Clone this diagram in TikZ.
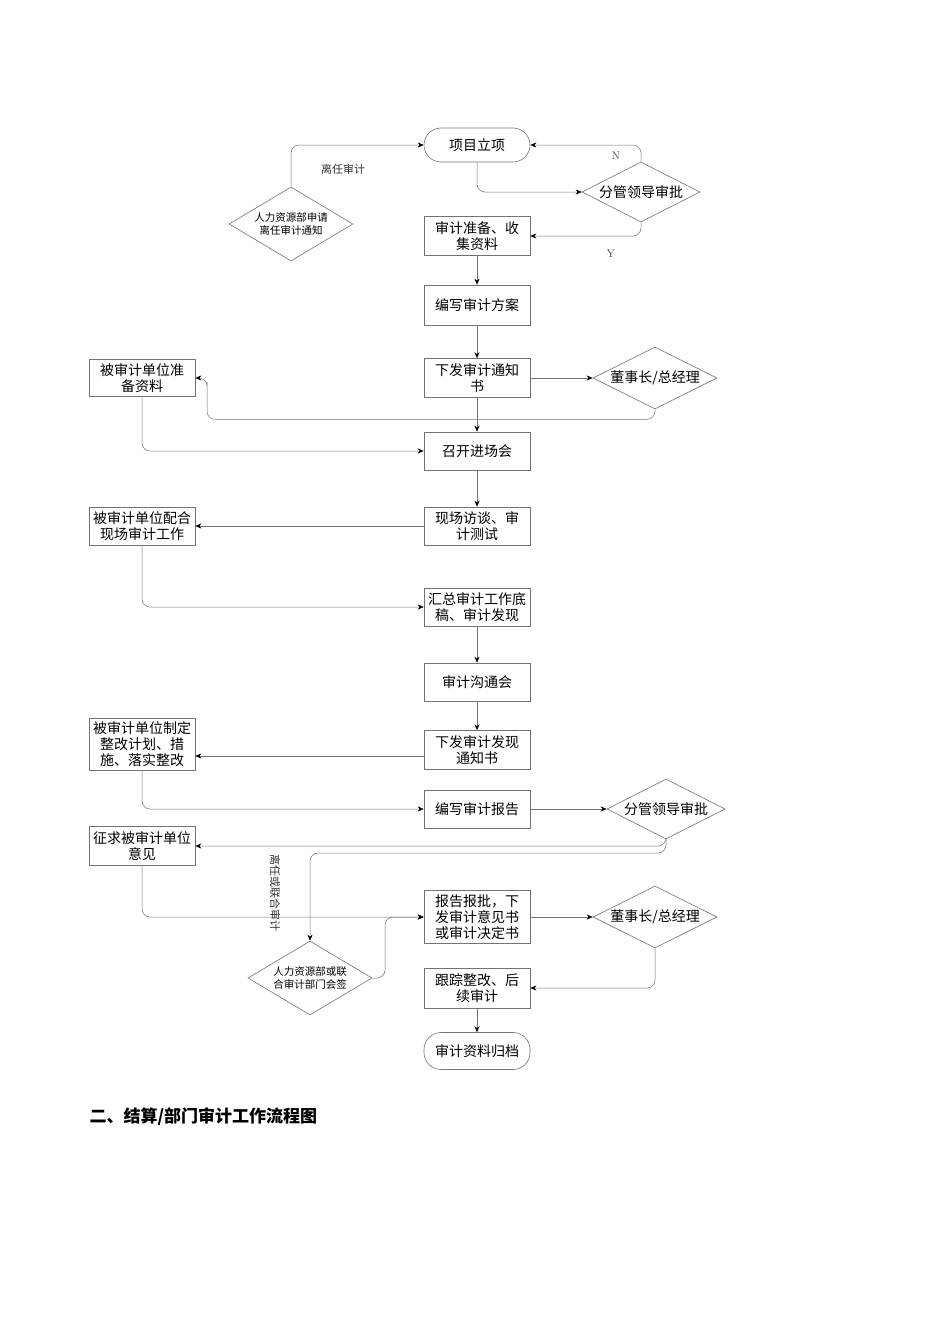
\documentclass[tikz,border=0pt]{standalone}
\usepackage{fontspec}
\newfontfamily\cjk{Noto Sans CJK SC}
\usetikzlibrary{shapes.geometric,arrows.meta}
\begin{document}
\begin{tikzpicture}[x=1pt,y=-1pt,
  font=\cjk\fontsize{14}{16}\selectfont,
  ln/.style={draw=black!55,line width=0.5pt,rounded corners=8pt},
  ar/.style={ln,-{Stealth[length=6pt,width=5pt,black]}},
  bx/.style={draw=black!55,line width=0.6pt,minimum width=106pt,text width=100pt,align=center,inner sep=1pt},
  term/.style={bx,rounded corners=17pt},
  dia/.style={draw=black!55,line width=0.6pt,diamond,aspect=1.9,inner sep=0pt,align=center},
  lb/.style={font=\cjk\fontsize{11}{13}\selectfont,text=black!80}]
\useasboundingbox (0,0) rectangle (950,1344);
\node[term,minimum height=34pt] (start) at (477,145) {项目立项};
\node[dia,minimum width=118pt,minimum height=60pt] (d1) at (641,192) {分管领导审批};
\node[dia,minimum width=124pt,minimum height=74pt,font=\cjk\fontsize{10.5}{13}\selectfont] (hr1) at (291,224) {人力资源部申请\\离任审计通知};
\node[bx,minimum height=39pt] (prep) at (477,236) {审计准备、收\\集资料};
\node[bx,minimum height=40pt] (plan) at (477,305) {编写审计方案};
\node[bx,minimum height=39pt] (notice) at (477,378) {下发审计通知\\书};
\node[dia,minimum width=124pt,minimum height=62pt] (ceo1) at (655,378) {董事长/总经理};
\node[bx,minimum height=37pt] (u1) at (142,378) {被审计单位准\\备资料};
\node[bx,minimum height=38pt] (meet) at (477,451) {召开进场会};
\node[bx,minimum height=38pt] (field) at (477,526) {现场访谈、审\\计测试};
\node[bx,minimum height=38pt] (u2) at (142,526) {被审计单位配合\\现场审计工作};
\node[bx,minimum height=38pt] (sum) at (477,607) {汇总审计工作底\\稿、审计发现};
\node[bx,minimum height=38pt] (comm) at (477,682) {审计沟通会};
\node[bx,minimum height=39pt] (find) at (477,750) {下发审计发现\\通知书};
\node[bx,minimum height=52pt] (u3) at (142,744) {被审计单位制定\\整改计划、措\\施、落实整改};
\node[bx,minimum height=38pt] (rep) at (477,809) {编写审计报告};
\node[dia,minimum width=118pt,minimum height=60pt] (d2) at (666,809) {分管领导审批};
\node[bx,minimum height=39pt] (u4) at (142,846) {征求被审计单位\\意见};
\node[bx,minimum height=53pt] (appr) at (477,917) {报告报批，下\\发审计意见书\\或审计决定书};
\node[dia,minimum width=124pt,minimum height=62pt] (ceo2) at (655,917) {董事长/总经理};
\node[dia,minimum width=124pt,minimum height=74pt,font=\cjk\fontsize{10.5}{13}\selectfont] (hr2) at (310,978) {人力资源部或联\\合审计部门会签};
\node[bx,minimum height=40pt] (track) at (477,988) {跟踪整改、后\\续审计};
\node[term,minimum height=37pt] (arch) at (477,1051) {审计资料归档};
\node[anchor=west,font=\cjk\bfseries\fontsize{17}{19}\selectfont] (h) at (86,1117) {二、结算/部门审计工作流程图};
\node[lb] (l1) at (343,169) {离任审计};
\node[lb,font=\rmfamily\fontsize{11}{13}\selectfont] (ln1) at (616,156) {N};
\node[lb,font=\rmfamily\fontsize{11}{13}\selectfont] (ly1) at (611,254) {Y};
\node[lb,rotate=-90] (l2) at (275,893) {离任或联合审计};
% connectors
\draw[ar] (hr1.north) |- (start.west);
\draw[ar] (start.south) |- (d1.west);
\draw[ar] (d1.north) |- (start.east);
\draw[ar] (d1.south) |- (prep.east);
\draw[ar] (prep) -- (plan);
\draw[ar] (plan) -- (notice);
\draw[ar] (notice.east) -- (ceo1.west);
\draw[ar] (ceo1.south) -- ++(0,10) -| (207,390) |- (u1.east);
\draw[ar] (notice) -- (meet);
\draw[ar] (u1.south) |- (meet.west);
\draw[ar] (meet) -- (field);
\draw[ar] (field.west) -- (u2.east);
\draw[ar] (u2.south) |- (sum.west);
\draw[ar] (sum) -- (comm);
\draw[ar] (comm) -- (find);
\draw[ar] ([yshift=-6pt]find.west) -- ([yshift=-6pt]find.west -| u3.east);
\draw[ar] (u3.south) |- (rep.west);
\draw[ar] (rep.east) -- (d2.west);
\draw[ar] (d2.south) |- (u4.east);
\draw[ar] (d2.south) -- (666,853) -| (hr2.north);
\draw[ar] (u4.south) |- (appr.west);
\draw[ar] (hr2.east) -- (385,978) |- (appr.west);
\draw[ar] (appr.east) -- (ceo2.west);
\draw[ar] (ceo2.south) |- (track.east);
\draw[ar] (track) -- (arch);
\end{tikzpicture}
\end{document}
